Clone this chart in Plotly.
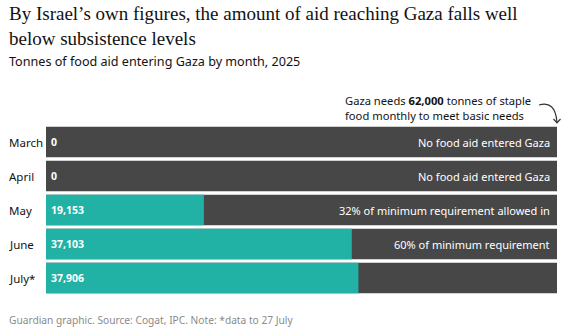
import plotly.graph_objects as go

months = ["March", "April", "May", "June", "July*"]
tonnes = [0, 0, 19153, 37103, 37906]
requirement = [62000, 62000, 62000, 62000, 62000]
notes = ["No food aid entered Gaza", "No food aid entered Gaza",
         "32% of minimum requirement allowed in", "60% of minimum requirement", ""]

W, H = 573, 332
L, R, T, B = 46, 557, 125, 295  # plot area in pixels

def px(x):
    return (x - L) / (R - L)

def py(y):
    return (B - y) / (B - T)

SANS = "Noto Sans"
GRAY = "#474747"
TEAL = "#22b2a5"

fig = go.Figure()
fig.add_trace(go.Bar(y=months, x=requirement, orientation="h",
                     marker=dict(color=GRAY, line=dict(width=0)), hoverinfo="skip"))
fig.add_trace(go.Bar(y=months, x=tonnes, orientation="h",
                     marker=dict(color=TEAL, line=dict(width=0)), hoverinfo="skip"))

ann = []
for m, v, n in zip(months, tonnes, notes):
    ann.append(dict(x=px(7), xref="paper", y=m, yref="y", text=m, showarrow=False,
                    xanchor="left", yanchor="middle",
                    font=dict(family=SANS, size=11.5, color="#121212")))
    ann.append(dict(x=0, xref="x", xshift=3, y=m, yref="y", text="<b>%s</b>" % f"{v:,}",
                    showarrow=False, xanchor="left", yanchor="middle",
                    font=dict(family=SANS, size=10.5, color="white")))
    if n:
        ann.append(dict(x=requirement[0], xref="x", xshift=-5, y=m, yref="y", text=n,
                        showarrow=False, xanchor="right", yanchor="middle",
                        font=dict(family=SANS, size=11, color="white")))

ann.append(dict(x=px(7), xref="paper", y=py(26), yref="paper",
                text="By Israel\u2019s own figures, the amount of aid reaching Gaza falls well<br>below subsistence levels",
                showarrow=False, xanchor="left", yanchor="middle", align="left",
                font=dict(family="Liberation Serif", size=19, color="#121212")))
ann.append(dict(x=px(7), xref="paper", y=py(61.5), yref="paper",
                text="Tonnes of food aid entering Gaza by month, 2025",
                showarrow=False, xanchor="left", yanchor="middle", align="left",
                font=dict(family=SANS, size=12.6, color="#121212")))
ann.append(dict(x=px(343), xref="paper", y=py(108.5), yref="paper",
                text="Gaza needs <b>62,000</b> tonnes of staple<br>food monthly to meet basic needs",
                showarrow=False, xanchor="left", yanchor="middle", align="left",
                font=dict(family=SANS, size=11.2, color="#121212")))
ann.append(dict(x=px(7), xref="paper", y=py(320), yref="paper",
                text="Guardian graphic. Source: Cogat, IPC. Note: *data to 27 July",
                showarrow=False, xanchor="left", yanchor="middle", align="left",
                font=dict(family=SANS, size=10.2, color="#8a8a8a")))

shapes = [
    dict(type="path", xref="paper", yref="paper",
         path="M %f %f Q %f %f %f %f" % (px(539), py(105), px(555), py(100), px(557), py(122)),
         line=dict(color="#333333", width=1.2)),
    dict(type="path", xref="paper", yref="paper",
         path="M %f %f L %f %f L %f %f" % (px(553.5), py(119), px(557), py(122.8), px(560.5), py(119)),
         line=dict(color="#333333", width=1.2)),
]

fig.update_layout(
    width=W, height=H, barmode="overlay", bargap=0.1, showlegend=False,
    margin=dict(l=L, r=W - R, t=T, b=H - B, pad=0),
    paper_bgcolor="white", plot_bgcolor="white",
    xaxis=dict(range=[0, 62000], visible=False, fixedrange=True),
    yaxis=dict(autorange="reversed", visible=False, fixedrange=True),
    annotations=ann, shapes=shapes,
)
fig.write_html("out.html", config={"displayModeBar": False})
